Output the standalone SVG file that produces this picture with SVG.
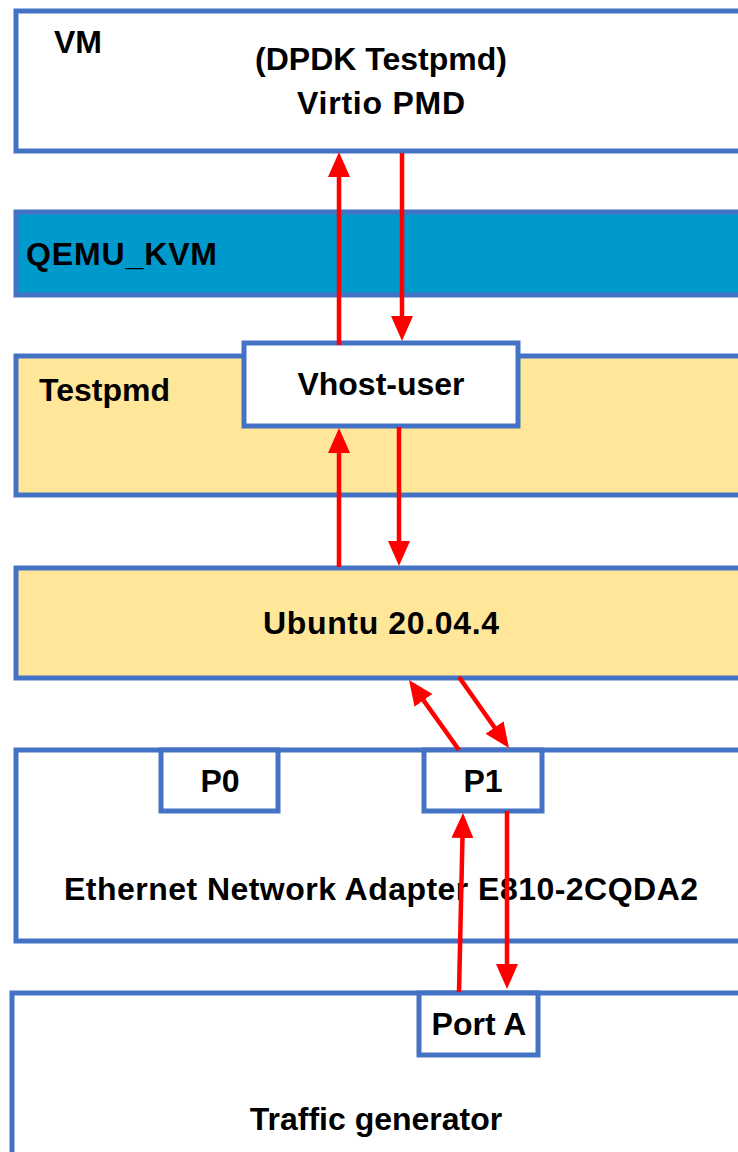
<svg xmlns="http://www.w3.org/2000/svg" width="738" height="1152" viewBox="0 0 738 1152">
<style>
.box{stroke:#4472C4;stroke-width:5;}
.w{fill:#FFFFFF;}
.y{fill:#FFE699;}
.q{fill:#0099CC;}
.t{font-family:"Liberation Sans",Arial,sans-serif;font-weight:bold;font-size:32px;fill:#000000;}
.m{text-anchor:middle;}
.c{stroke:#FF0000;stroke-width:4.5;fill:none;marker-end:url(#ah);}
</style>
<defs>
<marker id="ah" markerUnits="userSpaceOnUse" markerWidth="26" markerHeight="23" refX="15" refY="11" orient="auto">
<path d="M0,0 L25,11 L0,22 z" fill="#FF0000"/>
</marker>
</defs>
<rect width="738" height="1152" fill="#FFFFFF"/>
<g id="vm">
<rect class="box w" x="16" y="11" width="760" height="140"/>
<text class="t" x="54" y="53">VM</text>
<text class="t m" x="381" y="70">(DPDK Testpmd)</text>
<text class="t m" x="381" y="114" textLength="168" lengthAdjust="spacing">Virtio PMD</text>
</g>
<g id="qemu">
<rect class="box q" x="16" y="212" width="760" height="83"/>
<text class="t" x="26" y="265" textLength="191" lengthAdjust="spacing">QEMU_KVM</text>
</g>
<g id="testpmd">
<rect class="box y" x="16" y="356" width="760" height="139"/>
<text class="t" x="39" y="401">Testpmd</text>
</g>
<g id="vhost">
<rect class="box w" x="244" y="343" width="274" height="83"/>
<text class="t m" x="381" y="395">Vhost-user</text>
</g>
<g id="ubuntu">
<rect class="box y" x="16" y="568" width="760" height="110"/>
<text class="t m" x="381" y="634" textLength="236" lengthAdjust="spacing">Ubuntu 20.04.4</text>
</g>
<g id="nic">
<rect class="box w" x="16" y="750" width="760" height="191"/>
<text class="t m" x="381" y="900" textLength="634" lengthAdjust="spacing">Ethernet Network Adapter E810-2CQDA2</text>
</g>
<g id="p0">
<rect class="box w" x="161" y="750" width="117" height="61"/>
<text class="t m" x="220" y="792">P0</text>
</g>
<g id="p1">
<rect class="box w" x="424" y="750" width="118" height="61"/>
<text class="t m" x="483" y="792">P1</text>
</g>
<g id="tgen">
<rect class="box w" x="12" y="993" width="764" height="200"/>
<text class="t m" x="376" y="1130">Traffic generator</text>
</g>
<g id="porta">
<rect class="box w" x="419" y="993" width="119" height="62"/>
<text class="t m" x="479" y="1035">Port A</text>
</g>
<g id="connectors">
<path class="c" d="M339,345 L339,162"/>
<path class="c" d="M402,153 L402,331"/>
<path class="c" d="M339,567 L339,438"/>
<path class="c" d="M399,427 L399,556"/>
<path class="c" d="M459,750 L414.8,688.1"/>
<path class="c" d="M459,677 L503.2,739.8"/>
<path class="c" d="M459,992 L462.8,823"/>
<path class="c" d="M507,811 L507,979"/>
</g>
</svg>
